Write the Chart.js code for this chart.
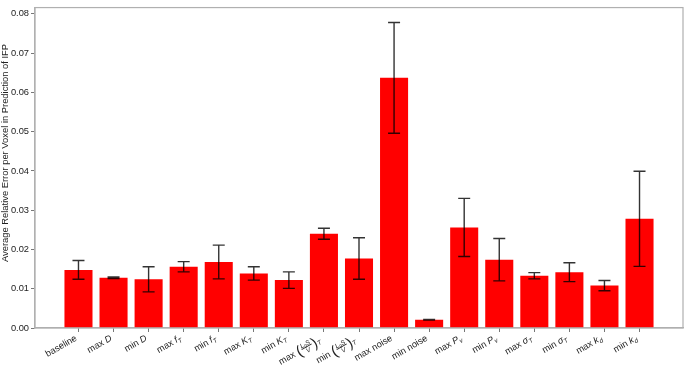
<!DOCTYPE html>
<html>
<head>
<meta charset="utf-8">
<script src="https://cdn.jsdelivr.net/npm/chart.js@4"></script>
<style>
  html, body { margin: 0; padding: 0; background: #ffffff; }
  canvas { display: block; }
</style>
</head>
<body>
<canvas id="errChart" width="685" height="366"></canvas>
<script>
// labels use a tiny markup: $...$ = math (italic), _x = subscript, (a/b) = fraction
const categories = [
    'baseline', 'max $D$', 'min $D$', 'max $f_T$', 'min $f_T$', 'max $K_T$', 'min $K_T$',
    'max $(L_0S/V)_T$', 'min $(L_0S/V)_T$', 'max noise', 'min noise',
    'max $P_v$', 'min $P_v$', 'max $\\sigma_T$', 'min $\\sigma_T$', 'max $k_d$', 'min $k_d$'
];
const meanError = [0.0148, 0.0128, 0.0124, 0.0156, 0.0168, 0.0139, 0.0122, 0.0240, 0.0177,
    0.0637, 0.0021, 0.0256, 0.0174, 0.0133, 0.0142, 0.0108, 0.0278];
const stdError = [0.0024, 0.0002, 0.0032, 0.0013, 0.0043, 0.0017, 0.0021, 0.0014, 0.0053,
    0.0141, 0.0001, 0.0074, 0.0054, 0.0008, 0.0024, 0.0013, 0.0121];
const yTicks = [0, 0.01, 0.02, 0.03, 0.04, 0.05, 0.06, 0.07, 0.08];
const yTitle = 'Average Relative Error per Voxel in Prediction of IFP';

const FONT = 'Liberation Sans';
const LABEL_SIZE = 9.3;
const SPINE = '#b0b0b0';
const TICK = '#777777';

function mathSegs(str, scale) {
    const out = [];
    str = str.replace('\\sigma', 'σ');
    for (let i = 0; i < str.length; i++) {
        if (str[i] === '_') {
            const c = str[++i];
            out.push({ t: c, it: /[A-Za-z]/.test(c), s: scale * 0.7, dy: scale * 0.22 });
        } else {
            out.push({ t: str[i], it: true, s: scale, dy: 0 });
        }
    }
    return out;
}

function parseLabel(src) {
    const segs = [];
    src.split('$').forEach((p, k) => {
        if (!p) return;
        if (k % 2 === 0) {
            segs.push({ t: p, it: false, s: 1, dy: 0 });
            return;
        }
        const m = p.match(/^\((.+)\/(.+)\)(.*)$/);
        if (m) {
            segs.push({ paren: '(' });
            segs.push({ frac: [mathSegs(m[1], 0.7), mathSegs(m[2], 0.7)] });
            segs.push({ paren: ')' });
            segs.push(...mathSegs(m[3], 1));
        } else {
            segs.push(...mathSegs(p, 1));
        }
    });
    return segs;
}

function setFont(ctx, it, px) {
    ctx.font = (it ? 'italic ' : '') + px + 'px "' + FONT + '"';
}

function runWidth(ctx, run, size) {
    return run.reduce((w, g) => {
        setFont(ctx, g.it, g.s * size);
        return w + ctx.measureText(g.t).width;
    }, 0);
}

function segWidth(ctx, seg, size) {
    if (seg.paren) {
        setFont(ctx, false, size * 1.6);
        return ctx.measureText(seg.paren).width;
    }
    if (seg.frac) {
        return Math.max(runWidth(ctx, seg.frac[0], size), runWidth(ctx, seg.frac[1], size)) + 2;
    }
    setFont(ctx, seg.it, seg.s * size);
    return ctx.measureText(seg.t).width;
}

function drawRun(ctx, run, x, y, size) {
    run.forEach(g => {
        setFont(ctx, g.it, g.s * size);
        ctx.fillText(g.t, x, y + g.dy * size);
        x += ctx.measureText(g.t).width;
    });
}

function segExtent(seg) {
    if (seg.paren) return [-0.95, 0.6];
    if (seg.frac) return [-0.95, 0.4];
    return [seg.dy - 0.72 * seg.s, seg.dy + 0.21 * seg.s];
}

const mathLabels = {
    id: 'mathLabels',
    afterDraw(chart) {
        const ctx = chart.ctx;
        const xs = chart.scales.x;
        const topY = chart.chartArea.bottom + 6;
        const ang = Math.PI / 6;
        ctx.save();
        ctx.fillStyle = '#222222';
        ctx.textBaseline = 'alphabetic';
        ctx.textAlign = 'left';
        categories.forEach((lab, i) => {
            const segs = parseLabel(lab);
            const size = LABEL_SIZE;
            let w = 0, a = 0, d = 0;
            segs.forEach(s => {
                w += segWidth(ctx, s, size);
                const [t, b] = segExtent(s);
                a = Math.max(a, -t * size);
                d = Math.max(d, b * size);
            });
            const ox = xs.getPixelForValue(i) - d * Math.sin(ang);
            const oy = topY + a * Math.cos(ang);
            ctx.save();
            ctx.translate(ox, oy);
            ctx.rotate(-ang);
            let x = -w;
            segs.forEach(s => {
                const sw = segWidth(ctx, s, size);
                if (s.paren) {
                    setFont(ctx, false, size * 1.6);
                    ctx.fillText(s.paren, x, 0.25 * size);
                } else if (s.frac) {
                    const axis = -0.3 * size;
                    const nw = runWidth(ctx, s.frac[0], size);
                    const dw = runWidth(ctx, s.frac[1], size);
                    drawRun(ctx, s.frac[0], x + (sw - nw) / 2, axis - 0.12 * size, size);
                    drawRun(ctx, s.frac[1], x + (sw - dw) / 2, axis + 0.62 * size, size);
                    ctx.fillRect(x + 0.5, axis - 0.4, sw - 1, 0.8);
                } else {
                    setFont(ctx, s.it, s.s * size);
                    ctx.fillText(s.t, x, s.dy * size);
                }
                x += sw;
            });
            ctx.restore();
        });

        // y-axis title, sits a little above the axis centre in the original
        ctx.save();
        ctx.translate(5.5, 153);
        ctx.rotate(-Math.PI / 2);
        ctx.textAlign = 'center';
        ctx.textBaseline = 'middle';
        setFont(ctx, false, 9.4);
        ctx.fillText(yTitle, 0, 0);
        ctx.restore();
        ctx.restore();
    }
};

const errorBars = {
    id: 'errorBars',
    afterDatasetsDraw(chart) {
        const ctx = chart.ctx;
        const ys = chart.scales.y;
        const meta = chart.getDatasetMeta(0);
        ctx.save();
        ctx.strokeStyle = 'rgba(0,0,0,0.8)';
        ctx.lineWidth = 1.4;
        meta.data.forEach((bar, i) => {
            const x = bar.x;
            const hi = ys.getPixelForValue(meanError[i] + stdError[i]);
            const lo = ys.getPixelForValue(meanError[i] - stdError[i]);
            ctx.beginPath();
            ctx.moveTo(x, hi); ctx.lineTo(x, lo);
            ctx.moveTo(x - 6, hi); ctx.lineTo(x + 6, hi);
            ctx.moveTo(x - 6, lo); ctx.lineTo(x + 6, lo);
            ctx.stroke();
        });
        ctx.restore();
    }
};

const frame = {
    id: 'frame',
    afterDraw(chart) {
        const { left, right, top, bottom } = chart.chartArea;
        const ctx = chart.ctx;
        ctx.save();
        ctx.strokeStyle = SPINE;
        ctx.lineWidth = 1.2;
        ctx.strokeRect(left, top, right - left, bottom - top);
        ctx.restore();
    }
};

new Chart(document.getElementById('errChart').getContext('2d'), {
    type: 'bar',
    data: {
        datasets: [{
            data: meanError.map((v, i) => ({ x: i, y: v })),
            backgroundColor: '#ff0000',
            borderWidth: 0,
            barPercentage: 1,
            categoryPercentage: 0.8
        }]
    },
    options: {
        responsive: false,
        animation: false,
        devicePixelRatio: 1,
        layout: { padding: { left: 0, top: 1, right: 2, bottom: 0 } },
        plugins: { legend: { display: false }, tooltip: { enabled: false } },
        scales: {
            x: {
                type: 'linear',
                offset: false,
                min: -1.24,
                max: 17.24,
                afterBuildTicks: s => { s.ticks = categories.map((_, i) => ({ value: i })); },
                afterFit: s => { s.height = 38; },
                ticks: { callback: () => '', autoSkip: false, maxRotation: 0 },
                grid: { offset: false, drawOnChartArea: false, drawTicks: true, tickLength: 4, color: TICK },
                border: { color: SPINE, width: 1.2 }
            },
            y: {
                min: 0,
                max: 0.0816,
                afterBuildTicks: s => { s.ticks = yTicks.map(v => ({ value: v })); },
                afterFit: s => { s.width = 35; },
                ticks: {
                    callback: v => v.toFixed(2),
                    color: '#222222',
                    padding: 2,
                    font: { family: FONT, size: 9.3 }
                },
                grid: { drawOnChartArea: false, drawTicks: true, tickLength: 4, color: TICK },
                border: { color: SPINE, width: 1.2 },
                title: { display: false }
            }
        }
    },
    plugins: [errorBars, frame, mathLabels]
});
</script>
</body>
</html>
